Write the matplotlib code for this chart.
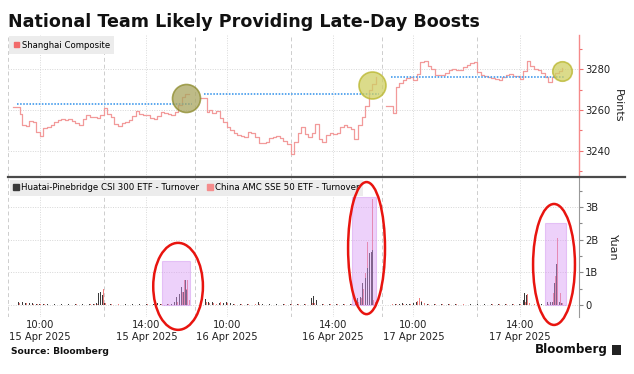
import matplotlib
matplotlib.use("Agg")
import matplotlib.pyplot as plt
from matplotlib.patches import Rectangle, Ellipse, Patch
from matplotlib.lines import Line2D
from matplotlib.ticker import FixedLocator, FuncFormatter

plt.rcParams['font.family'] = ['DejaVu Sans']

# ---------------- data ----------------
title = "National Team Likely Providing Late-Day Boosts"
days = ["15 Apr 2025", "16 Apr 2025", "17 Apr 2025"]
tick_times = ["10:00", "14:00"]
tick_minutes = [30, 180]          # trading minutes after 9:30 (lunch collapsed)

# Shanghai Composite, sampled in trading minutes after 9:30
price_minutes = [-8, 0, 2] + list(range(5, 245, 5))
price_d1 = [3261.6, 3261.6, 3258.0, 3252.5, 3252.0, 3254.5, 3254.0, 3249.5, 3247.5, 3251.0,
            3251.5, 3252.5, 3254.0, 3255.0, 3255.5, 3255.0, 3255.5, 3254.6, 3253.5, 3252.5,
            3255.5, 3257.5, 3256.5, 3256.5, 3256.0, 3257.5, 3260.8, 3258.2, 3256.5, 3253.0,
            3252.4, 3253.5, 3254.3, 3255.0, 3257.0, 3259.5, 3258.2, 3257.8, 3257.5, 3256.0,
            3255.5, 3257.0, 3259.0, 3258.5, 3258.0, 3257.6, 3259.0, 3262.4, 3266.5, 3267.6,
            3267.66]
price_d2 = [3266.0, 3266.0, 3259.0, 3260.0, 3258.5, 3259.5, 3256.0, 3254.0, 3251.5, 3250.0,
            3249.0, 3248.0, 3247.5, 3247.0, 3249.5, 3249.0, 3247.0, 3244.0, 3243.7, 3244.5,
            3246.5, 3247.0, 3247.5, 3246.5, 3245.0, 3243.3, 3238.5, 3244.5, 3249.0, 3251.5,
            3248.5, 3247.0, 3249.0, 3253.0, 3246.0, 3244.5, 3248.0, 3249.0, 3248.5, 3249.0,
            3251.5, 3252.5, 3251.5, 3250.5, 3246.0, 3252.5, 3256.7, 3262.0, 3270.0, 3272.5,
            3276.0]
price_d3 = [3262.0, 3262.0, 3258.5, 3271.0, 3273.0, 3274.6, 3275.4, 3276.3, 3274.8, 3277.5,
            3283.5, 3284.0, 3281.5, 3280.0, 3277.0, 3277.0, 3277.3, 3278.0, 3279.3, 3280.2,
            3279.5, 3279.5, 3281.0, 3282.0, 3283.0, 3283.6, 3278.7, 3277.0, 3276.5, 3276.0,
            3275.5, 3275.2, 3274.4, 3276.0, 3277.0, 3277.4, 3276.8, 3276.7, 3275.0, 3279.0,
            3284.0, 3281.5, 3280.0, 3279.3, 3278.0, 3276.3, 3273.8, 3276.0, 3278.0, 3279.0,
            3280.34]
prev_close = [3262.81, 3267.66, 3276.00]    # blue dotted reference levels

# ETF turnover (billion yuan)
turn_min_d1 = [0, 5, 10, 15, 20, 25, 30, 35, 40, 50, 60, 70, 80, 90, 100, 106, 110, 112, 115, 118,
               121, 130, 140, 150, 160, 170, 180, 190, 195, 200, 210, 215, 219, 223, 226, 230,
               232, 235, 237, 240]
csi300_d1 = [0.09, 0.08, 0.07, 0.06, 0.05, 0.04, 0.03, 0.03, 0.02, 0.02, 0.02, 0.02, 0.02, 0.02,
             0.03, 0.03, 0.05, 0.36, 0.40, 0.30, 0.06, 0.03, 0.02, 0.02, 0.02, 0.02, 0.02, 0.03,
             0.06, 0.02, 0.03, 0.04, 0.08, 0.25, 0.35, 0.55, 0.40, 0.75, 0.45, 0.10]
sse50_d1 = [0.05, 0.04, 0.05, 0.03, 0.03, 0.02, 0.02, 0.02, 0.02, 0.02, 0.02, 0.01, 0.02, 0.01,
            0.02, 0.02, 0.03, 0.30, 0.66, 0.50, 0.05, 0.02, 0.02, 0.02, 0.01, 0.02, 0.02, 0.02,
            0.03, 0.02, 0.02, 0.03, 0.03, 0.10, 0.30, 0.40, 0.76, 0.50, 0.76, 0.15]

turn_min_d2 = [0, 5, 10, 15, 20, 25, 30, 35, 40, 50, 60, 70, 75, 80, 90, 100, 110, 120, 130, 140,
               150, 153, 156, 165, 175, 185, 195, 205, 211, 215, 219, 222, 225, 228, 231, 234,
               236, 239]
csi300_d2 = [0.18, 0.10, 0.08, 0.06, 0.05, 0.06, 0.08, 0.05, 0.04, 0.03, 0.04, 0.03, 0.10, 0.03,
             0.03, 0.04, 0.03, 0.04, 0.03, 0.04, 0.20, 0.28, 0.15, 0.03, 0.02, 0.02, 0.02, 0.03,
             0.10, 0.20, 0.25, 0.66, 0.82, 1.12, 1.58, 1.63, 1.68, 0.12]
sse50_d2 = [0.10, 0.06, 0.05, 0.04, 0.08, 0.05, 0.06, 0.04, 0.03, 0.03, 0.02, 0.02, 0.03, 0.02,
            0.02, 0.02, 0.02, 0.03, 0.02, 0.02, 0.05, 0.06, 0.04, 0.02, 0.02, 0.02, 0.02, 0.02,
            0.05, 0.08, 0.20, 0.50, 0.97, 1.94, 3.23, 3.23, 0.15, 0.10]

turn_min_d3 = [0, 5, 10, 15, 20, 25, 30, 35, 38, 41, 45, 50, 60, 70, 80, 90, 100, 110, 120, 130,
               140, 150, 160, 170, 180, 185, 187, 190, 193, 200, 210, 219, 223, 226, 229, 232,
               236, 239]
csi300_d3 = [0.05, 0.04, 0.04, 0.05, 0.03, 0.04, 0.06, 0.10, 0.12, 0.10, 0.06, 0.04, 0.03, 0.03,
             0.02, 0.02, 0.03, 0.02, 0.03, 0.02, 0.02, 0.02, 0.03, 0.02, 0.03, 0.15, 0.36, 0.30,
             0.12, 0.04, 0.03, 0.10, 0.08, 0.10, 0.66, 1.25, 0.10, 0.05]
sse50_d3 = [0.03, 0.03, 0.02, 0.03, 0.02, 0.03, 0.04, 0.12, 0.20, 0.12, 0.05, 0.03, 0.02, 0.02,
            0.02, 0.02, 0.02, 0.02, 0.02, 0.02, 0.02, 0.02, 0.02, 0.02, 0.02, 0.05, 0.10, 0.35,
            0.06, 0.02, 0.02, 0.03, 0.05, 0.36, 0.90, 2.06, 0.36, 0.05]

# highlight annotations (per day): circle centre on price, purple window on turnover
circle_min = [235.5, 234.5, 239.0]
circle_price = [3266.0, 3272.0, 3279.0]
circle_diam_px = [28, 27, 19.5]
window_start = [202, 206, 215.5]
window_end = [241.5, 240.5, 244.7]
window_top = [1.35, 3.29, 2.50]
oval_center_min = [224.6, 227.1, 228.2]
oval_center_val = [0.57, 1.74, 1.24]
oval_width_min = [70, 52, 59]
oval_height_val = [2.66, 4.04, 3.70]

# ---------------- layout helpers ----------------
DAY_SPAN = 263          # x-units per trading day block (240 min + gap)
W, H = 634, 374

def xs(day, mins):
    return [day * DAY_SPAN + m for m in mins]

fig = plt.figure(figsize=(W / 100, H / 100), dpi=100)
ax1 = fig.add_axes([8 / W, 1 - 177 / H, 571 / W, 142 / H])
ax2 = fig.add_axes([8 / W, 1 - 317 / H, 571 / W, 139 / H])

XL = (-15, 789.4)
pink = '#f07f7f'
line_pink = '#f29a9a'
dark = '#3a3a3a'

for ax in (ax1, ax2):
    ax.set_xlim(*XL)
    for s in ('top', 'left', 'bottom'):
        ax.spines[s].set_visible(False)
    ax.set_facecolor('white')
    # vertical grid
    for d in range(3):
        for m in tick_minutes:
            ax.axvline(d * DAY_SPAN + m, color='#dadada', lw=0.7, ls=(0, (1, 1.5)), zorder=0)
        ax.axvline(d * DAY_SPAN + 120, color='#cdcdcd', lw=0.7, ls=(0, (4, 3)), zorder=0)
        ax.axvline(d * DAY_SPAN - 14.5, color='#cdcdcd', lw=0.7, ls=(0, (4, 3)), zorder=0)
    ax.yaxis.tick_right()
    ax.yaxis.set_label_position('right')

# ---------- top panel ----------
ax1.set_ylim(3227.3, 3296.6)
for v in (3240, 3260, 3280):
    ax1.axhline(v, color='#d6d6d6', lw=0.7, ls=(0, (1, 1.5)), zorder=0)
for d, pr in enumerate([price_d1, price_d2, price_d3]):
    ax1.plot(xs(d, price_minutes), pr, color=line_pink, lw=0.9, drawstyle='steps-post', zorder=2)
# reference lines: previous close over each day
for d, pc in enumerate(prev_close):
    ax1.plot([d * DAY_SPAN - 2, d * DAY_SPAN + 244], [pc, pc], color='#5aa7ee', lw=1.4,
             ls=(0, (0.8, 0.8)), zorder=3)
# circles
for d in range(3):
    fc = '#a9a55f' if d == 0 else '#cfcf63'
    ec = '#8c8a2a' if d == 0 else '#b8b52a'
    ax1.scatter([d * DAY_SPAN + circle_min[d]], [circle_price[d]],
                s=(circle_diam_px[d] * 0.72) ** 2, facecolor=fc, edgecolor=ec,
                linewidths=1.2, alpha=0.75, zorder=4)

ax1.yaxis.set_major_locator(FixedLocator([3240, 3260, 3280]))
ax1.yaxis.set_minor_locator(FixedLocator([3230, 3250, 3270, 3290]))
ax1.tick_params(axis='y', which='both', colors='#f07070', labelcolor='#222222',
                labelsize=7.2, length=3, width=0.8, pad=1.5)
ax1.tick_params(axis='y', which='minor', length=2)
ax1.tick_params(axis='x', bottom=False, labelbottom=False)
ax1.spines['right'].set_color('#f58a8a')
ax1.spines['right'].set_linewidth(1.0)
ax1.set_ylabel('Points', rotation=270, fontsize=8, labelpad=9, color='#222222')
leg1 = ax1.legend(handles=[Patch(color='#f26b6b', label='Shanghai Composite')],
                  loc='upper left', bbox_to_anchor=(0, 1.0), fontsize=6.1,
                  frameon=True, facecolor='#ececec', edgecolor='none', framealpha=1,
                  fancybox=False, handlelength=0.65, handleheight=0.65,
                  handletextpad=0.3, borderaxespad=0.1, borderpad=0.55)

# ---------- bottom panel ----------
ax2.set_ylim(-0.367, 3.884)
for v in (0, 1, 2, 3):
    ax2.axhline(v, color='#d6d6d6', lw=0.7, ls=(0, (1, 1.5)), zorder=0)
bw = 1.3
for d, (tm, c3, s5) in enumerate([(turn_min_d1, csi300_d1, sse50_d1),
                                  (turn_min_d2, csi300_d2, sse50_d2),
                                  (turn_min_d3, csi300_d3, sse50_d3)]):
    ax2.bar([x + 1.0 for x in xs(d, tm)], s5, width=bw, color=pink, lw=0, zorder=2)
    ax2.bar(xs(d, tm), c3, width=bw, color=dark, lw=0, zorder=3)
for d in range(3):
    x0 = d * DAY_SPAN + window_start[d]
    x1 = d * DAY_SPAN + window_end[d]
    ax2.add_patch(Rectangle((x0, 0), x1 - x0, window_top[d], facecolor='#d999f5',
                            edgecolor='#cf8ff0', lw=0.8, alpha=0.45, zorder=4))
    ax2.add_patch(Ellipse((d * DAY_SPAN + oval_center_min[d], oval_center_val[d]),
                          oval_width_min[d], oval_height_val[d], fill=False,
                          edgecolor='#e8140f', lw=1.8, zorder=6, clip_on=False))

ax2.yaxis.set_major_locator(FixedLocator([0, 1, 2, 3]))
ax2.yaxis.set_minor_locator(FixedLocator([0.5, 1.5, 2.5, 3.5]))
ax2.yaxis.set_major_formatter(FuncFormatter(lambda v, p: '0' if v == 0 else f'{int(v)}B'))
ax2.tick_params(axis='y', which='both', colors='#888888', labelcolor='#222222',
                labelsize=7.2, length=3, width=0.8, pad=1.5)
ax2.tick_params(axis='y', which='minor', length=2)
ax2.spines['right'].set_color('#999999')
ax2.set_ylabel('Yuan', rotation=270, fontsize=8, labelpad=14, color='#222222')

xt, xl = [], []
for d, day in enumerate(days):
    for m, t in zip(tick_minutes, tick_times):
        xt.append(d * DAY_SPAN + m)
        xl.append(f"{t}\n{day}")
ax2.set_xticks(xt)
ax2.set_xticklabels(xl, fontsize=7.2, color='#222222', linespacing=1.25)
ax2.tick_params(axis='x', length=0, pad=2)

leg2 = ax2.legend(handles=[Patch(color=dark, label='Huatai-Pinebridge CSI 300 ETF - Turnover'),
                           Patch(color='#f58c8c', label='China AMC SSE 50 ETF - Turnover')],
                  loc='upper left', bbox_to_anchor=(0, 1.0), ncol=2, fontsize=6.2,
                  frameon=True, facecolor='#ececec', edgecolor='none', framealpha=1,
                  fancybox=False, handlelength=0.65, handleheight=0.65,
                  handletextpad=0.3, borderaxespad=0.2, borderpad=0.4, columnspacing=0.9)

# ---------- figure furniture ----------
fig.text(8 / W, 1 - 22 / H, title, fontsize=12.6, fontweight='bold', va='center', ha='left',
         color='#111111')
fig.add_artist(Line2D([8 / W, 625 / W], [1 - 177 / H, 1 - 177 / H], color='#4a4a4a', lw=1.6))
fig.text(11 / W, 1 - 351 / H, 'Source: Bloomberg', fontsize=6.6, fontweight='bold',
         va='center', ha='left', color='#111111')
fig.text(608 / W, 1 - 350 / H, 'Bloomberg', fontsize=8.6, fontweight='bold',
         va='center', ha='right', color='#111111')
fig.add_artist(Rectangle((612 / W, 1 - 355 / H), 9 / W, 10 / H, facecolor='#222222',
                         edgecolor='none', transform=fig.transFigure))

fig.savefig('out.png', dpi=100)
